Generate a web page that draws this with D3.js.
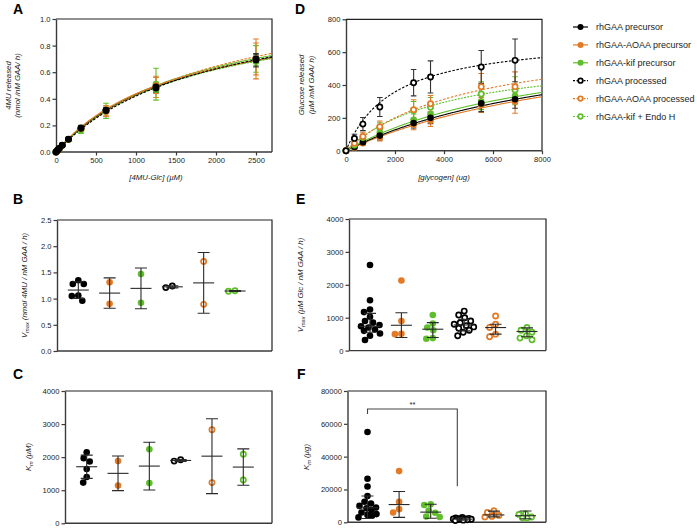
<!DOCTYPE html>
<html><head><meta charset="utf-8">
<script src="https://cdn.jsdelivr.net/npm/d3@7"></script>
<style>body{margin:0;background:#fff}svg{display:block;font-family:"Liberation Sans",Arial,Helvetica,sans-serif}</style>
</head><body><svg id="c" width="697" height="528"></svg>
<script>
// ---------------- DATA ----------------
const seriesNames = ["rhGAA precursor","rhGAA-AOAA precursor","rhGAA-kif precursor","rhGAA processed","rhGAA-AOAA processed","rhGAA-kif + Endo H"];
const seriesColors = ["#000000","#E27A26","#5FBE2B","#000000","#E27A26","#5FBE2B"];
const seriesOpen = [false,false,false,true,true,true];

// Panel A: 4MU-Glc kinetics
const substrateA = [0,20,39,78,156,312,625,1250,2500];
const rateA = [
  [0,0.012,0.025,0.050,0.096,0.178,0.310,0.480,0.690],
  [0,0.012,0.024,0.050,0.095,0.175,0.305,0.500,0.700],
  [0,0.011,0.023,0.048,0.094,0.170,0.310,0.510,0.700],
  [0,0.013,0.026,0.052,0.097,0.180,0.315,0.490,0.700],
  [0,0.012,0.025,0.050,0.095,0.176,0.310,0.490,0.700],
  [0,0.012,0.025,0.050,0.094,0.165,0.305,0.470,0.680]];
const errA = [
  [0,0.002,0.003,0.005,0.008,0.012,0.020,0.030,0.050],
  [0,0.003,0.004,0.006,0.010,0.020,0.035,0.060,0.150],
  [0,0.003,0.005,0.008,0.012,0.030,0.057,0.120,0.100],
  [0,0.002,0.003,0.004,0.006,0.010,0.015,0.020,0.030],
  [0,0.003,0.004,0.006,0.010,0.020,0.040,0.080,0.120],
  [0,0.002,0.003,0.004,0.006,0.010,0.015,0.020,0.030]];

// Panel D: glycogen kinetics
const substrateD = [0,345,690,1380,2760,3450,5520,6900];
const rateD = [
  [0,22,52,92,168,200,288,313],
  [0,18,45,82,158,182,278,298],
  [0,25,60,110,188,222,300,335],
  [0,75,162,266,414,449,510,550],
  [0,45,87,146,250,286,390,390],
  [0,35,80,140,245,264,345,370]];
const errD = [
  [0,8,12,25,30,35,50,55],
  [0,8,12,22,30,35,45,70],
  [0,10,15,20,35,40,50,55],
  [0,25,40,58,80,98,100,130],
  [0,15,25,35,60,50,80,90],
  [0,12,20,30,55,60,75,80]];

// Panel B: Vmax (4MU-Glc), Panel C: Km (4MU-Glc)
const vmaxB = [[1.35,1.28,1.28,1.06,1.05,0.96],[1.31,0.90],[1.47,0.92],[1.21,1.24],[1.71,0.89],[1.14,1.15]];
const kmC = [[2150,1970,1870,1640,1400,1230],[1880,1140],[2240,1220],[1880,1920],[2830,1230],[2090,1310]];

// Panel E: Vmax (glycogen), Panel F: Km (glycogen)
const vmaxE = [
  [2600,1530,1250,1170,1030,900,850,780,740,700,640,600,520,450,320],
  [2130,900,510,500],
  [1080,820,700,620,380,360],
  [1200,1080,1000,900,850,800,760,720,680,620,560,450],
  [1050,800,700,500,420],
  [700,620,560,450,380,330]];
const vmaxEMedian = [740,770,650,780,700,580];
const vmaxEQ1 = [560,400,400,600,500,420];
const vmaxEQ3 = [1130,1150,850,950,800,690];

const kmF = [
  [55000,26500,21800,16000,12500,11500,10000,9000,8500,7500,6000,5000,4500,4000,3000],
  [31200,12500,8000,6000],
  [11000,10500,7200,5800,3500,3200],
  [2900,2600,2400,2200,2100,2000,1900,1800,1600,1500,1300,1100],
  [7000,6000,4200,3600,3300],
  [5200,4800,3200,2800,2600]];
const kmFMedian = [8800,10800,6200,1900,4500,4000];
const kmFQ1 = [2300,3000,2500,1300,3300,2200];
const kmFQ3 = [16000,18800,11000,2700,6800,6900];

// Michaelis–Menten fit parameters for the curves
const fitVmaxA = [1.16,1.10,1.19,1.22,1.30,1.145];
const fitKmA = [1710,1510,1730,1900,2030,1700];
const fitVmaxD = [778,805,728,704,713,599];
const fitKmD = [10253,11587,8400,1937,5111,4124];

const ticksA_x = [0,500,1000,1500,2000,2500], ticksA_y = [0,0.2,0.4,0.6,0.8,1.0];
const ticksD_x = [0,2000,4000,6000,8000], ticksD_y = [0,200,400,600,800];
const ticksB = [0,0.5,1.0,1.5,2.0,2.5], ticksC = [0,1000,2000,3000,4000];
const ticksE = [0,1000,2000,3000,4000], ticksF = [0,20000,40000,60000,80000];

// ---------------- DRAWING ----------------
const svg = d3.select("#c");
const AX = "#3a3a3a";
const R = 3.3;

function styleAxis(a){
  a.select(".domain").attr("stroke",AX).attr("stroke-width",1.4);
  a.selectAll(".tick line").attr("stroke",AX).attr("stroke-width",1.2);
  a.selectAll(".tick text").attr("font-size",7.6).attr("fill","#222").attr("font-family",'"Liberation Sans",Arial,sans-serif');
}
function frame(x0,x1,yT,yB){
  svg.append("path").attr("d",`M${x0},${yT}H${x1}V${yB}`).attr("fill","none").attr("stroke","#222").attr("stroke-width",1.2);
}
function yAxis(y, x0, ticks, fmt){
  const a = svg.append("g").attr("transform",`translate(${x0},0)`)
    .call(d3.axisLeft(y).tickValues(ticks).tickFormat(fmt).tickSize(3.5).tickSizeOuter(0).tickPadding(2));
  styleAxis(a);
}
function xAxisBare(x0,x1,yB){
  svg.append("line").attr("x1",x0).attr("x2",x1).attr("y1",yB).attr("y2",yB).attr("stroke",AX).attr("stroke-width",1.4);
}
function letter(t,x,y){
  svg.append("text").attr("x",x).attr("y",y).attr("font-size",14).attr("font-weight","bold").attr("fill","#000").text(t);
}
function rotLabel(x,yc,parts){
  const t = svg.append("text").attr("transform",`translate(${x},${yc}) rotate(-90)`)
    .attr("text-anchor","middle").attr("font-size",7.8).attr("font-style","italic").attr("fill","#222");
  parts.forEach(p=>{
    const s = t.append("tspan").text(p.t);
    if(p.sub) s.attr("dy",1.8).attr("font-size",5.6);
    if(p.up) s.attr("dy",-1.8);
  });
}
function marker(g, cx, cy, i, r){
  g.append("circle").attr("cx",cx).attr("cy",cy).attr("r",seriesOpen[i]? r-0.7 : r)
    .attr("fill",seriesOpen[i]?"#fff":seriesColors[i])
    .attr("stroke",seriesColors[i]).attr("stroke-width",seriesOpen[i]?1.7:0);
}
function errBar(g,cx,yLo,yHi,color,cap){
  g.append("path").attr("d",`M${cx},${yLo}V${yHi}M${cx-cap},${yLo}H${cx+cap}M${cx-cap},${yHi}H${cx+cap}`)
    .attr("stroke",color).attr("stroke-width",1.1).attr("fill","none");
}
const dashFor = [null,null,null,"2.5,1.6","2.5,1.6","2,1.2"];

function kineticPanel(o){
  const x = d3.scaleLinear().domain(o.xdom).range([o.x0,o.x1]);
  const y = d3.scaleLinear().domain(o.ydom).range([o.yB,o.yT]);
  frame(o.x0,o.x1,o.yT,o.yB);
  yAxis(y,o.x0,o.yticks,o.yfmt);
  const ax = svg.append("g").attr("transform",`translate(0,${o.yB})`)
    .call(d3.axisBottom(x).tickValues(o.xticks).tickFormat(d3.format("d")).tickSize(3.5).tickSizeOuter(0).tickPadding(2));
  styleAxis(ax);
  ax.select(".domain").attr("d",`M${o.x0},0H${o.x1}`);
  const g = svg.append("g");
  const line = d3.line().x(d=>x(d[0])).y(d=>y(d[1]));
  o.curveOrder.forEach(i=>{
    const pts = d3.range(0,o.xdom[1]+1,o.xdom[1]/300).map(s=>[s,o.V[i]*s/(o.K[i]+s)]);
    g.append("path").attr("d",line(pts)).attr("fill","none").attr("stroke",seriesColors[i])
      .attr("stroke-width",1.1).attr("stroke-dasharray",dashFor[i]);
  });
  o.pointOrder.forEach(i=>{
    o.xs.forEach((s,j)=>{
      if(o.err[i][j]>0) errBar(g,x(s),y(o.vals[i][j]-o.err[i][j]),y(o.vals[i][j]+o.err[i][j]),seriesColors[i]==="#000000"?"#333":seriesColors[i],2.8);
    });
  });
  o.pointOrder.forEach(i=>{
    o.xs.forEach((s,j)=>marker(g,x(s),y(o.vals[i][j]),i,R));
  });
  return {x,y};
}

// Panel A
letter("A",13,14);
kineticPanel({x0:56,x1:272,yT:19,yB:152,xdom:[0,2700],ydom:[0,1],xticks:ticksA_x,yticks:ticksA_y,
  yfmt:d3.format(".1f"),xs:substrateA,vals:rateA,err:errA,V:fitVmaxA,K:fitKmA,
  curveOrder:[2,0,1,5,4,3],pointOrder:[5,4,2,1,3,0]});
rotLabel(11,85.5,[{t:"4MU released"}]);
rotLabel(20,85.5,[{t:"(nmol /nM GAA/ h)"}]);
svg.append("text").attr("x",156).attr("y",180).attr("text-anchor","middle").attr("font-size",7.8).attr("font-style","italic").attr("fill","#222").text("[4MU-Glc] (\u00B5M)");

// Panel D
letter("D",295,14);
kineticPanel({x0:346,x1:542,yT:19.3,yB:150.7,xdom:[0,8000],ydom:[0,800],xticks:ticksD_x,yticks:ticksD_y,
  yfmt:d3.format("d"),xs:substrateD,vals:rateD,err:errD,V:fitVmaxD,K:fitKmD,
  curveOrder:[1,0,2,5,4,3],pointOrder:[1,2,0,5,4,3]});
rotLabel(304,85,[{t:"Glucose released"}]);
rotLabel(314,85,[{t:"(\u00B5M /nM GAA/ h)"}]);
svg.append("text").attr("x",444).attr("y",180).attr("text-anchor","middle").attr("font-size",7.8).attr("font-style","italic").attr("fill","#222").text("[glycogen] (ug)");

// Legend
const lg = svg.append("g");
seriesNames.forEach((n,i)=>{
  const yy = 27 + i*17.9;
  lg.append("line").attr("x1",573).attr("x2",588).attr("y1",yy).attr("y2",yy).attr("stroke",seriesColors[i]).attr("stroke-width",1.2).attr("stroke-dasharray",seriesOpen[i]?"2,1.5":null);
  marker(lg,580.5,yy,i,3);
  lg.append("text").attr("x",596).attr("y",yy+3.1).attr("font-size",9).attr("fill","#222").text(n);
});

// swarm offsets
function swarm(vals, y, r, maxW){
  const placed=[]; const offs=new Array(vals.length);
  vals.map((v,i)=>({i,py:y(v)})).sort((a,b)=>a.py-b.py).forEach(p=>{
    let best=0,bestD=-1;
    for(let k=0;k<=maxW;k+=0.5){
      for(const dx of (k===0?[0]:[-k,k])){
        let md=Infinity;
        placed.forEach(q=>{const d=Math.hypot(q.x-dx,q.y-p.py); if(d<md) md=d;});
        if(md>=2*r*0.98){ if(bestD<Infinity){best=dx;bestD=Infinity;} }
        else if(bestD<Infinity && md>bestD){bestD=md;best=dx;}
      }
      if(bestD===Infinity) break;
    }
    offs[p.i]=best; placed.push({x:best,y:p.py});
  });
  return offs;
}

function scatterPanel(o){
  const y = d3.scaleLinear().domain(o.ydom).range([o.yB,o.yT]);
  const x = d3.scalePoint().domain(d3.range(6)).range([o.first,o.last]);
  frame(o.x0,o.x1,o.yT,o.yB);
  xAxisBare(o.x0,o.x1,o.yB);
  yAxis(y,o.x0,o.yticks,o.yfmt);
  const g = svg.append("g");
  o.data.forEach((vals,i)=>{
    const cx = x(i);
    const offs = swarm(vals,y,R,o.maxW||11);
    vals.forEach((v,j)=>marker(g,cx+offs[j],y(v),i,R));
  });
  o.data.forEach((vals,i)=>{
    const cx = x(i);
    errBar(g,cx,y(o.lo[i]),y(o.hi[i]),"#2a2a2a",6);
    g.append("line").attr("x1",cx-10.5).attr("x2",cx+10.5).attr("y1",y(o.mid[i])).attr("y2",y(o.mid[i])).attr("stroke","#2a2a2a").attr("stroke-width",1.1);
  });
  return {x,y};
}
function meanSd(arr){ return arr.map(a=>({m:d3.mean(a),s:d3.deviation(a)})); }

// Panel B
letter("B",13,204);
const sB = meanSd(vmaxB);
scatterPanel({x0:57,x1:272,yT:220,yB:351,ydom:[0,2.5],yticks:ticksB,yfmt:d3.format(".1f"),first:78.3,last:235,
  data:vmaxB,mid:sB.map(d=>d.m),lo:sB.map(d=>d.m-d.s),hi:sB.map(d=>d.m+d.s)});
rotLabel(27,285.5,[{t:"V"},{t:"max",sub:true},{t:" (nmol 4MU / nM GAA / h)",up:true}]);

// Panel C
letter("C",13,379);
const sC = meanSd(kmC);
scatterPanel({x0:65,x1:272,yT:391,yB:523.3,ydom:[0,4000],yticks:ticksC,yfmt:d3.format("d"),first:86.7,last:243.3,
  data:kmC,mid:sC.map(d=>d.m),lo:sC.map(d=>d.m-d.s),hi:sC.map(d=>d.m+d.s)});
rotLabel(31,457,[{t:"K"},{t:"m",sub:true},{t:" (\u00B5M)",up:true}]);

// Panel E
letter("E",296,204);
scatterPanel({x0:349,x1:546,yT:219,yB:350.6,ydom:[0,4000],yticks:ticksE,yfmt:d3.format("d"),first:370,last:527,
  data:vmaxE,mid:vmaxEMedian,lo:vmaxEQ1,hi:vmaxEQ3,maxW:10});
rotLabel(303,285,[{t:"V"},{t:"max",sub:true},{t:" (\u00B5M  Glc / nM GAA / h)",up:true}]);

// Panel F
letter("F",297,379);
const pF = scatterPanel({x0:347.5,x1:546,yT:391,yB:522.3,ydom:[0,80000],yticks:ticksF,yfmt:d3.format("d"),first:367.5,last:525.5,
  data:kmF,mid:kmFMedian,lo:kmFQ1,hi:kmFQ3,maxW:9});
rotLabel(309,457,[{t:"K"},{t:"m",sub:true},{t:" (\u00B5g)",up:true}]);
// significance bracket between group 0 and group 3
const bx0 = pF.x(0), bx1 = pF.x(3)-5;
svg.append("path").attr("d",`M${bx0},${pF.y(66000)}V${pF.y(69000)}H${bx1}V${pF.y(22000)}`).attr("fill","none").attr("stroke","#444").attr("stroke-width",1.1);
svg.append("text").attr("x",(bx0+bx1)/2).attr("y",pF.y(70500)).attr("text-anchor","middle").attr("font-size",7.5).attr("fill","#222").text("**");
</script></body></html>
